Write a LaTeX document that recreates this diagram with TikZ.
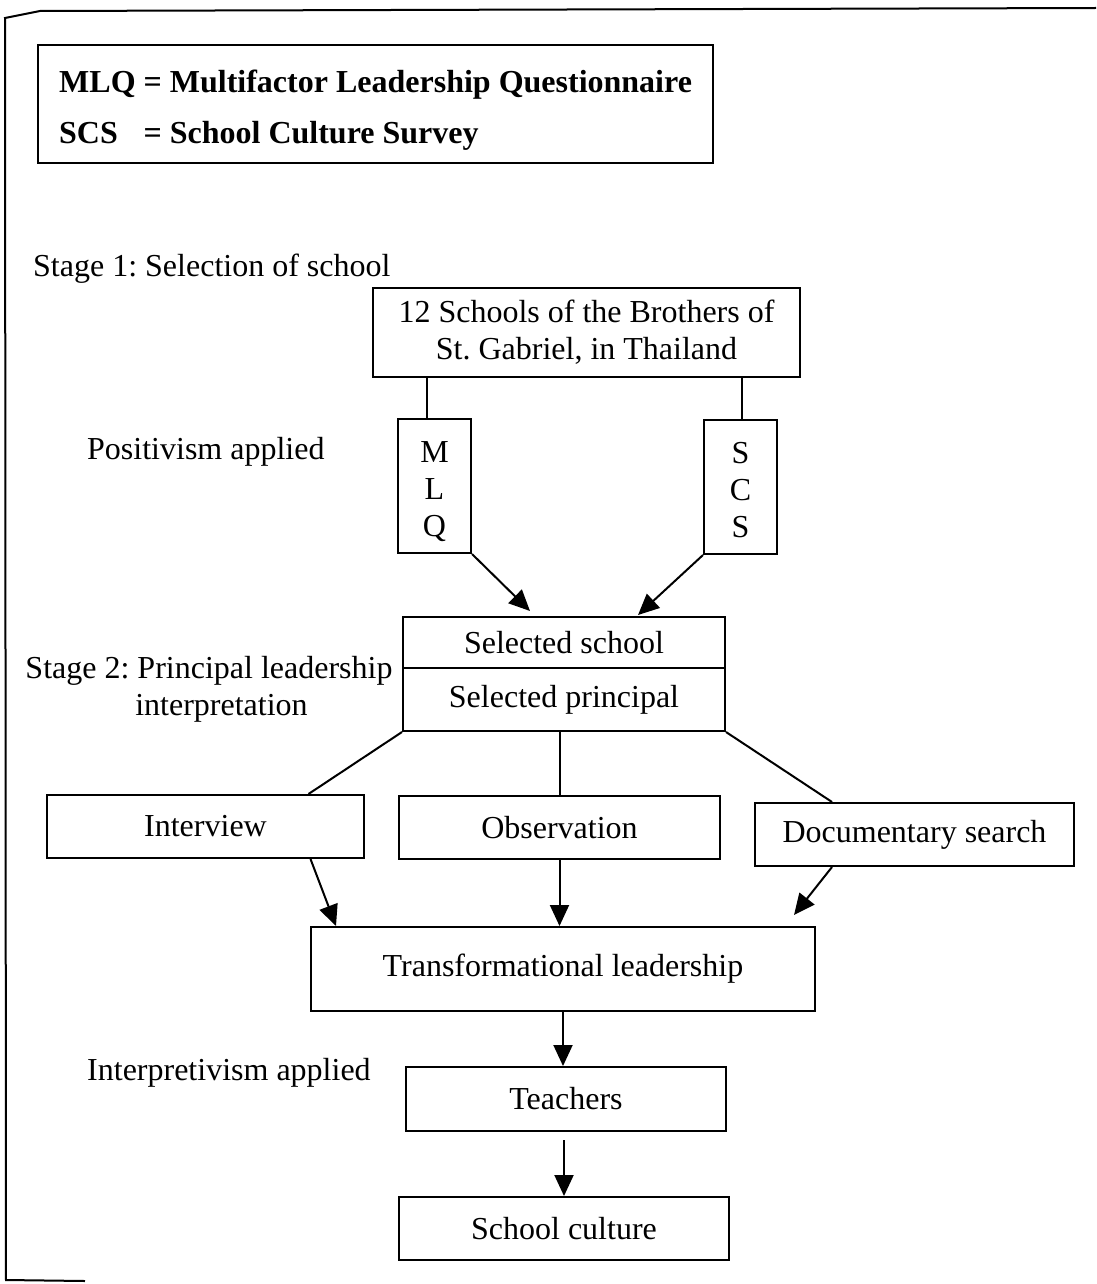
\documentclass[tikz,border=0pt]{standalone}
\usepackage{fontspec}
\setmainfont{Liberation Serif}
\usetikzlibrary{arrows.meta}
\begin{document}
\frenchspacing
\begin{tikzpicture}[x=1pt,y=-1pt,
  every node/.style={font=\fontsize{32}{37}\selectfont, inner sep=0pt},
  box/.style={draw, line width=2pt, align=center},
  lbl/.style={anchor=base west},
  conn/.style={line width=2pt},
  arr/.style={line width=2pt, -{Triangle[length=21pt,width=19pt]}}]
\useasboundingbox (0,0) rectangle (1096,1284);
% outer frame
\draw[line width=2pt] (85,1281) -- (6,1280) -- (5,18) -- (40,11) -- (1096,8);
% legend
\node[box, minimum width=675, minimum height=118] (legend) at (375.5,104) {};
\node[anchor=north west, font=\fontsize{32}{51}\selectfont\bfseries] (legtext) at (59,57)
  {\begin{tabular}{@{}l@{\hspace{8pt}}l@{}}MLQ & = Multifactor Leadership Questionnaire\\ SCS & = School Culture Survey\end{tabular}};
% stage labels
\node[lbl] (stage1) at (33,276) {Stage 1: Selection of school};
\node[lbl] (posit) at (87,459) {Positivism applied};
\node[align=center, anchor=base] (stage2) at (209,715) {Stage 2: Principal leadership\\\hspace*{25pt}interpretation};
\node[lbl] (interp) at (87,1080) {Interpretivism applied};
% boxes
\node[box, minimum width=427, minimum height=89] (schools) at (586.5,332.5) {12 Schools of the Brothers of\\St. Gabriel, in Thailand};
\node[box, minimum width=73, minimum height=134] (mlq) at (434.5,486) {\raisebox{-12pt}[0pt][0pt]{\begin{tabular}{@{}c@{}}M\\L\\Q\end{tabular}}};
\node[box, minimum width=73, minimum height=134] (scs) at (740.5,487) {\raisebox{-12pt}[0pt][0pt]{\begin{tabular}{@{}c@{}}S\\C\\S\end{tabular}}};
\node[box, minimum width=322, minimum height=51] (sel) at (564,642.5) {Selected school};
\node[box, minimum width=322, minimum height=63] (prin) at (564,699.5) {Selected principal};
\node[box, minimum width=317, minimum height=63] (interview) at (205.5,826.5) {Interview};
\node[box, minimum width=321, minimum height=63] (obs) at (559.5,827.5) {Observation};
\node[box, minimum width=319, minimum height=63] (doc) at (914.5,834.5) {Documentary search};
\node[box, minimum width=504, minimum height=84] (trans) at (563,969) {Transformational leadership};
\node[box, minimum width=320, minimum height=64] (teach) at (566,1099) {Teachers};
\node[box, minimum width=330, minimum height=63] (cult) at (564,1228.5) {School culture};
% connectors
\draw[conn] ([xshift=-7.5pt]mlq.north) -- ([xshift=-7.5pt]mlq.north |- schools.south);
\draw[conn] ([xshift=1.5pt]scs.north) -- ([xshift=1.5pt]scs.north |- schools.south);
\draw[arr] (mlq.south east) -- ([xshift=-34pt,yshift=5pt]sel.north);
\draw[arr] (scs.south west) -- ([xshift=74pt,yshift=1pt]sel.north);
\draw[conn] (prin.south west) -- ([xshift=103pt]interview.north);
\draw[conn] (obs.north |- prin.south) -- (obs.north);
\draw[conn] (prin.south east) -- ([xshift=-82.5pt]doc.north);
\draw[arr] ([xshift=105pt]interview.south) -- ([xshift=-227pt]trans.north);
\draw[arr] (obs.south) -- (obs.south |- trans.north);
\draw[arr] ([xshift=-82.5pt]doc.south) -- ([xshift=231pt,yshift=11pt]trans.north);
\draw[arr] (trans.south) -- (trans.south |- teach.north);
\draw[arr, shorten <=8pt] (cult.north |- teach.south) -- (cult.north);
\end{tikzpicture}
\end{document}
